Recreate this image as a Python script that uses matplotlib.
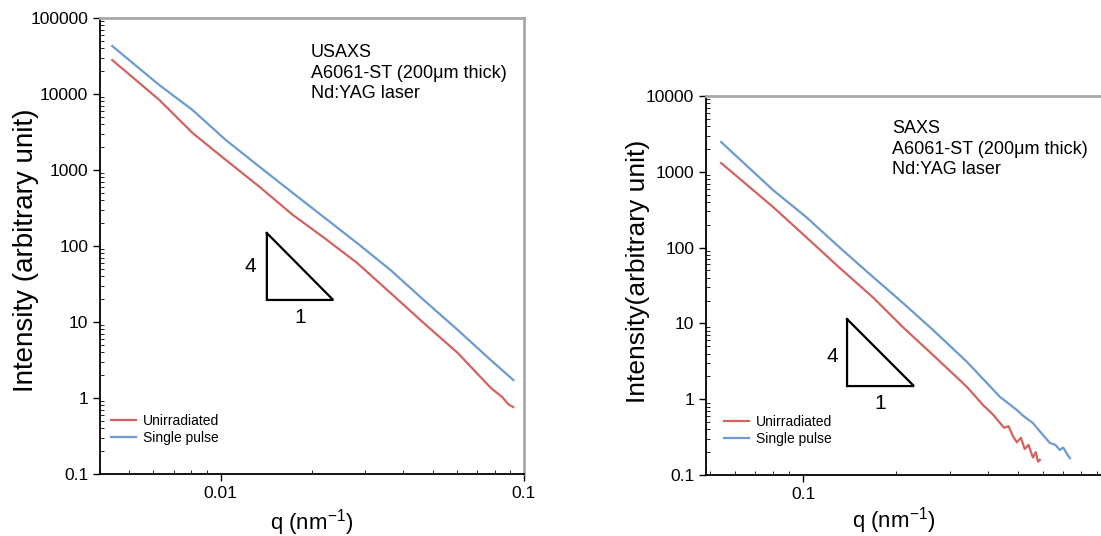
import numpy as np
import matplotlib
matplotlib.use("Agg")
import matplotlib.pyplot as plt
from matplotlib.ticker import NullFormatter, LogLocator

plt.rcParams['font.family'] = ['Liberation Sans', 'DejaVu Sans']
plt.rcParams['mathtext.default'] = 'regular'

# USAXS panel
usaxs_q_red = [0.00439, 0.00628, 0.00808, 0.0104, 0.01346, 0.0173, 0.02177, 0.0282,
               0.0363, 0.0467, 0.0605, 0.0777, 0.085, 0.088, 0.090, 0.0922]
usaxs_i_red = [28000, 8340, 3070, 1355, 597, 256, 131, 59.7,
               24.1, 9.7, 3.91, 1.36, 1.02, 0.86, 0.80, 0.76]
usaxs_q_blue = [0.00439, 0.00628, 0.00808, 0.0104, 0.01346, 0.0173, 0.0282,
                0.0363, 0.0467, 0.0605, 0.0777, 0.0923]
usaxs_i_blue = [42800, 13100, 6150, 2480, 1095, 498, 109,
                48.3, 19.5, 7.85, 3.16, 1.72]

# SAXS panel
saxs_q_red = [0.0542, 0.0799, 0.1023, 0.1309, 0.1688, 0.2112, 0.2643, 0.341,
              0.384, 0.40, 0.415, 0.4365, 0.45, 0.465, 0.48, 0.495, 0.51,
              0.525, 0.54, 0.558, 0.57, 0.58, 0.588]
saxs_i_red = [1306, 344, 138, 55, 22, 8.9, 3.83, 1.45,
              0.84, 0.72, 0.62, 0.485, 0.42, 0.44, 0.33, 0.27, 0.31,
              0.22, 0.25, 0.17, 0.2, 0.15, 0.158]
saxs_q_blue = [0.0542, 0.0799, 0.1023, 0.1309, 0.1688, 0.2112, 0.2643, 0.341,
               0.4365, 0.495, 0.52, 0.558, 0.59, 0.634, 0.66, 0.682, 0.70,
               0.72, 0.736]
saxs_i_blue = [2470, 575, 254, 102, 41, 18.6, 8.2, 3.1,
               1.07, 0.72, 0.6, 0.485, 0.37, 0.264, 0.25, 0.214, 0.23,
               0.19, 0.167]

labels = ['Unirradiated', 'Single pulse']
red = '#d4625f'
blue = '#6b9bd1'

# slope triangles (q, I)
usaxs_tri_q = [0.0142, 0.0142, 0.0235, 0.0142]
usaxs_tri_i = [148, 19.5, 19.5, 148]
saxs_tri_q = [0.139, 0.139, 0.2293, 0.139]
saxs_tri_i = [11.4, 1.49, 1.49, 11.4]

usaxs_yticks = [0.1, 1, 10, 100, 1000, 10000, 100000]
usaxs_ylabels = ['0.1', '1', '10', '100', '1000', '10000', '100000']
saxs_yticks = [0.1, 1, 10, 100, 1000, 10000]
saxs_ylabels = ['0.1', '1', '10', '100', '1000', '10000']


def style_axes(ax):
    ax.set_xscale('log')
    ax.set_yscale('log')
    for s in ['left', 'bottom']:
        ax.spines[s].set_color('black')
        ax.spines[s].set_linewidth(1.3)
    for s in ['top', 'right']:
        ax.spines[s].set_color('#a8a8a8')
        ax.spines[s].set_linewidth(2)
    ax.tick_params(which='major', direction='out', length=5, width=1,
                   labelsize=12.5, top=False, right=False)
    ax.tick_params(which='minor', direction='in', length=3, width=0.6,
                   top=False, right=False)
    ax.xaxis.set_minor_locator(LogLocator(base=10, subs=np.arange(2, 10)))
    ax.yaxis.set_minor_locator(LogLocator(base=10, subs=np.arange(2, 10)))
    ax.xaxis.set_minor_formatter(NullFormatter())
    ax.yaxis.set_minor_formatter(NullFormatter())


fig = plt.figure(figsize=(11.01, 5.36), dpi=100)

# left panel
ax1 = fig.add_axes([0.0908, 0.1157, 0.3851, 0.8507])
style_axes(ax1)
ax1.plot(usaxs_q_red, usaxs_i_red, color=red, lw=1.6, label=labels[0])
ax1.plot(usaxs_q_blue, usaxs_i_blue, color=blue, lw=1.6, label=labels[1])
ax1.plot(usaxs_tri_q, usaxs_tri_i, color='black', lw=1.6, solid_joinstyle='miter')
ax1.text(0.0125, 53, '4', fontsize=15, ha='center', va='center')
ax1.text(0.0183, 11.6, '1', fontsize=15, ha='center', va='center')
ax1.set_xlim(0.004, 0.1)
ax1.set_ylim(0.1, 100000)
ax1.set_xticks([0.01, 0.1])
ax1.set_xticklabels(['0.01', '0.1'])
ax1.set_yticks(usaxs_yticks)
ax1.set_yticklabels(usaxs_ylabels)
ax1.set_xlabel('q (nm$^{-1}$)', fontsize=16)
ax1.set_ylabel('Intensity (arbitrary unit)', fontsize=20)
ax1.xaxis.set_label_coords(0.50, -0.072)
ax1.yaxis.set_label_coords(-0.144, 0.49)
ax1.text(0.498, 0.942, 'USAXS\nA6061-ST (200\u03bcm thick)\nNd:YAG laser',
         transform=ax1.transAxes, fontsize=13, va='top', ha='left', linespacing=1.27)
ax1.legend(loc='upper left', bbox_to_anchor=(0.026, 0.132), frameon=False,
           fontsize=10, handlelength=1.8, handletextpad=0.5, labelspacing=0.2,
           borderpad=0, borderaxespad=0)

# right panel
ax2 = fig.add_axes([0.6412, 0.1138, 0.3678, 0.7071])
style_axes(ax2)
ax2.plot(saxs_q_red, saxs_i_red, color=red, lw=1.6, label=labels[0])
ax2.plot(saxs_q_blue, saxs_i_blue, color=blue, lw=1.6, label=labels[1])
ax2.plot(saxs_tri_q, saxs_tri_i, color='black', lw=1.6, solid_joinstyle='miter')
ax2.text(0.1242, 3.7, '4', fontsize=15, ha='center', va='center')
ax2.text(0.178, 0.89, '1', fontsize=15, ha='center', va='center')
ax2.set_xlim(0.0484, 1.0)
ax2.set_ylim(0.1, 10000)
ax2.set_xticks([0.1])
ax2.set_xticklabels(['0.1'])
ax2.set_yticks(saxs_yticks)
ax2.set_yticklabels(saxs_ylabels)
ax2.set_xlabel('q (nm$^{-1}$)', fontsize=16)
ax2.set_ylabel('Intensity(arbitrary unit)', fontsize=19)
ax2.xaxis.set_label_coords(0.464, -0.08)
ax2.yaxis.set_label_coords(-0.138, 0.536)
ax2.text(0.459, 0.936, 'SAXS\nA6061-ST (200\u03bcm thick)\nNd:YAG laser',
         transform=ax2.transAxes, fontsize=13, va='top', ha='left', linespacing=1.27)
ax2.legend(loc='upper left', bbox_to_anchor=(0.044, 0.158), frameon=False,
           fontsize=10, handlelength=1.8, handletextpad=0.5, labelspacing=0.2,
           borderpad=0, borderaxespad=0)

fig.savefig('out.png', dpi=100)
